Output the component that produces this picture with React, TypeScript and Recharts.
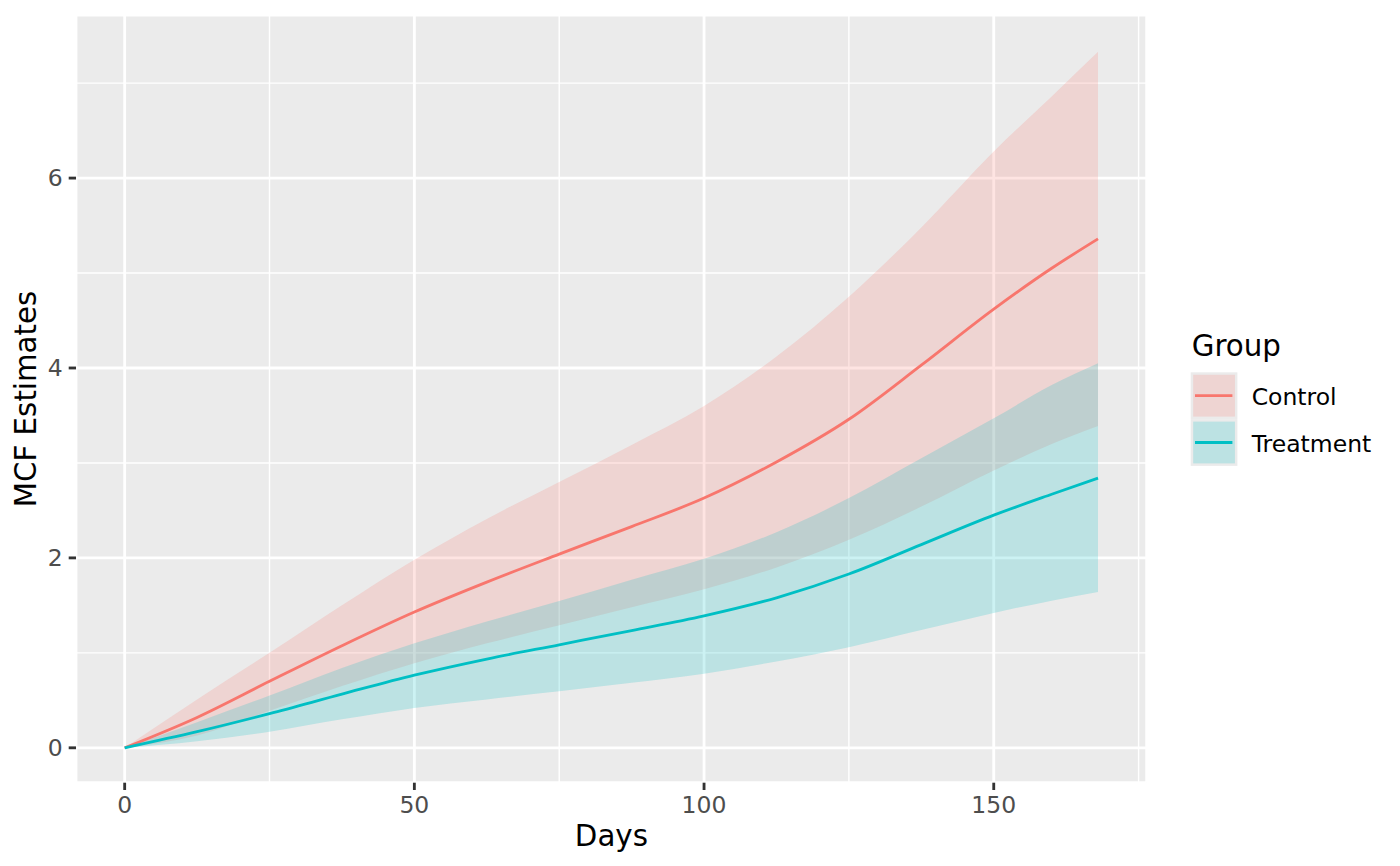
import React from 'react';
import {
  ComposedChart, Area, Line,
  XAxis, YAxis, CartesianGrid, Legend, Label,
} from 'recharts';

// ── data ────────────────────────────────────────────────────────────
const DAYS = [0, 12.5, 25, 37.5, 50, 62.5, 75, 87.5, 100, 112.5, 125, 137.5, 150, 160, 168];

const CONTROL_MCF   = [0, 0.32, 0.7, 1.075, 1.43, 1.745, 2.04, 2.33, 2.63, 3.01, 3.46, 4.03, 4.62, 5.05, 5.36];
const CONTROL_UPPER = [0, 0.51, 1.0, 1.5, 1.98, 2.41, 2.8, 3.19, 3.6, 4.12, 4.75, 5.48, 6.28, 6.86, 7.33];
const CONTROL_LOWER = [0, 0.13, 0.39, 0.65, 0.89, 1.1, 1.29, 1.48, 1.67, 1.9, 2.19, 2.54, 2.92, 3.2, 3.39];

const TREAT_MCF   = [0, 0.17, 0.36, 0.565, 0.765, 0.935, 1.085, 1.235, 1.39, 1.58, 1.83, 2.14, 2.45, 2.67, 2.84];
const TREAT_UPPER = [0, 0.27, 0.55, 0.84, 1.1, 1.33, 1.545, 1.77, 1.99, 2.27, 2.63, 3.05, 3.47, 3.82, 4.05];
const TREAT_LOWER = [0, 0.07, 0.17, 0.3, 0.42, 0.51, 0.595, 0.685, 0.78, 0.91, 1.06, 1.24, 1.42, 1.55, 1.64];

const X_TICKS = [0, 50, 100, 150];
const X_MINOR = [25, 75, 125, 175];
const Y_TICKS = [0, 2, 4, 6];
const Y_MINOR = [1, 3, 5, 7];

const GROUPS = ['Control', 'Treatment'];
const COLORS = ['#F8766D', '#00BFC4'];

const rows = DAYS.map((day, i) => ({
  day,
  control: CONTROL_MCF[i],
  controlBand: [CONTROL_LOWER[i], CONTROL_UPPER[i]],
  treatment: TREAT_MCF[i],
  treatmentBand: [TREAT_LOWER[i], TREAT_UPPER[i]],
}));

const FONT = '"DejaVu Sans", sans-serif';
const TICK = { fontSize: 23.5, fill: '#4D4D4D', fontFamily: FONT };
const TICK_LINE = { stroke: '#333333', strokeWidth: 2.84 };

/* ── legend (ggplot style keys) ───────────────────────────────────── */
function GroupLegend() {
  return (
    <svg width={215} height={160} style={{ display: 'block', fontFamily: FONT }}>
      <text x={11.7} y={36} fontSize={29.3} fill="#000">Group</text>
      {GROUPS.map((g, i) => {
        const top = 52.3 + i * 46.8;
        const mid = top + 23.4;
        return (
          <g key={g}>
            <rect x={10.7} y={top} width={46.7} height={46.8} fill="#EBEBEB" />
            <rect x={13.2} y={top + 2.5} width={41.7} height={41.8} fill={COLORS[i]} fillOpacity={0.2} />
            <line x1={15} x2={52.4} y1={mid} y2={mid} stroke={COLORS[i]} strokeWidth={2.84} />
            <text x={71.7} y={mid + 1} dominantBaseline="central" fontSize={23.5} fill="#000">{g}</text>
          </g>
        );
      })}
    </svg>
  );
}

const yTitle = () => (
  <text x={26.3} y={399} transform="rotate(-90 26.3 399)" textAnchor="middle"
    dominantBaseline="central" fontSize={29.3} fontFamily={FONT} fill="#000">MCF Estimates</text>
);

const xTitle = () => (
  <text x={611.4} y={845.7} textAnchor="middle" fontSize={29.3} fontFamily={FONT} fill="#000">Days</text>
);

export default function App() {
  return (
    <div style={{ position: 'absolute', left: 0, top: 0, background: '#fff' }}>
      <ComposedChart width={1400} height={866} data={rows}
        margin={{ top: 15, right: 253.3, bottom: 0, left: 0 }}>
        <CartesianGrid fill="#EBEBEB" stroke="#FFFFFF" strokeWidth={2.84} />
        <CartesianGrid fill="none" stroke="#FFFFFF" strokeWidth={1.42}
          verticalValues={X_MINOR} horizontalValues={Y_MINOR} />
        <XAxis dataKey="day" type="number" domain={[-8.4, 176.4]} ticks={X_TICKS} interval={0}
          allowDataOverflow height={83.3} axisLine={false} tickSize={7.3} tickMargin={6.6}
          tick={TICK} tickLine={TICK_LINE}>
          <Label content={xTitle} />
        </XAxis>
        <YAxis type="number" domain={[-0.3675, 7.7175]} ticks={Y_TICKS} interval={0}
          allowDataOverflow width={76} axisLine={false} tickSize={7.3} tickMargin={6.1}
          tick={TICK} tickLine={TICK_LINE}>
          <Label content={yTitle} />
        </YAxis>

        <Area type="monotone" dataKey="controlBand" stroke="none" fill={COLORS[0]} fillOpacity={0.2}
          isAnimationActive={false} />
        <Area type="monotone" dataKey="treatmentBand" stroke="none" fill={COLORS[1]} fillOpacity={0.2}
          isAnimationActive={false} />
        <Line type="monotone" dataKey="control" stroke={COLORS[0]} strokeWidth={2.84} dot={false}
          isAnimationActive={false} />
        <Line type="monotone" dataKey="treatment" stroke={COLORS[1]} strokeWidth={2.84} dot={false}
          isAnimationActive={false} />

        <Legend layout="vertical" align="center" verticalAlign="middle"
          wrapperStyle={{ left: 1180, top: 320, width: 215, height: 160 }}
          content={() => <GroupLegend />} />
      </ComposedChart>
    </div>
  );
}
